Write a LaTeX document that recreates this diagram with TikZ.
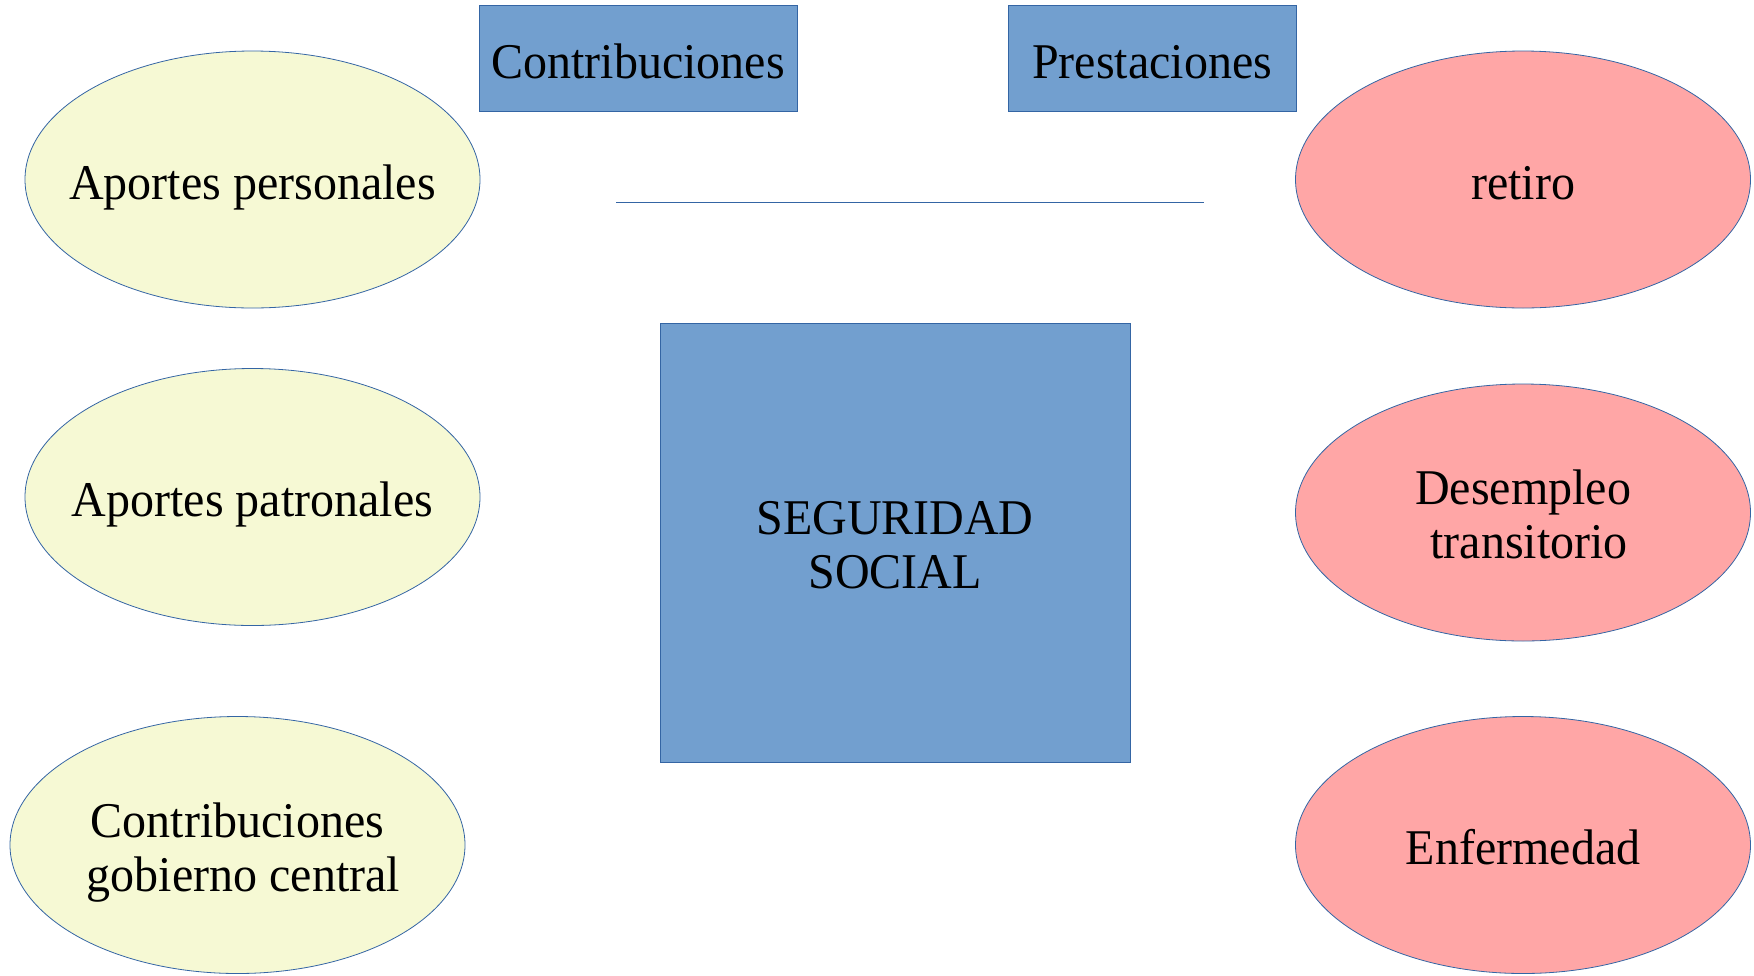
\documentclass[tikz,border=0pt]{standalone}
\usepackage{fontspec}
\setmainfont{Liberation Serif}
\usetikzlibrary{shapes.geometric}
\definecolor{boxblue}{HTML}{729FCF}
\definecolor{edgeblue}{HTML}{3465A4}
\definecolor{paleyellow}{HTML}{F6F9D4}
\definecolor{palepink}{HTML}{FFA6A6}
\newcommand{\zw}[1]{\makebox[0pt]{\scalebox{0.96}[1]{#1}}}
\tikzset{
  lbl/.style={font=\fontsize{50}{54}\selectfont, align=center, text=black, text height=39pt, text depth=0pt},
  twolines/.style={text height=92pt, text depth=0pt},
  bluebox/.style={lbl, rectangle, draw=edgeblue, line width=1pt, fill=boxblue, inner sep=0pt},
  contrib/.style={lbl, ellipse, draw=edgeblue, line width=0.8pt, fill=paleyellow, inner sep=0pt, minimum width=455pt, minimum height=257pt},
  benefit/.style={lbl, ellipse, draw=edgeblue, line width=0.8pt, fill=palepink, inner sep=0pt, minimum width=455pt, minimum height=257pt},
  rule/.style={draw=edgeblue, line width=1pt}
}
\begin{document}
\begin{tikzpicture}[x=1pt,y=-1pt]
\useasboundingbox (0,0) rectangle (1754,975);
\node[bluebox, minimum width=318pt, minimum height=106pt] (contribuciones) at (638,58.5) {\zw{Contribuciones}};
\node[bluebox, minimum width=288pt, minimum height=106pt] (prestaciones) at (1152,58.5) {\zw{Prestaciones}};
\node[bluebox, twolines, minimum width=470pt, minimum height=439pt] (seguridad) at (895,542.5) {\zw{SEGURIDAD}\\\zw{SOCIAL}};
\node[contrib] (personales) at (252.5,179.5) {\zw{Aportes personales}};
\node[contrib] (patronales) at (252.5,497) {\zw{Aportes patronales}};
\node[contrib, twolines] (gobierno) at (237.5,845) {\zw{Contribuciones}\\\zw{\ gobierno central}};
\node[benefit] (retiro) at (1523,179.5) {\zw{retiro}};
\node[benefit, twolines] (desempleo) at (1523,512.5) {\zw{Desempleo}\\\zw{\ transitorio}};
\node[benefit] (enfermedad) at (1523,845) {\zw{Enfermedad}};
\coordinate (lineL) at (616,202);
\coordinate (lineR) at (1204,202);
\draw[rule] (lineL) -- (lineR);
\end{tikzpicture}
\end{document}
